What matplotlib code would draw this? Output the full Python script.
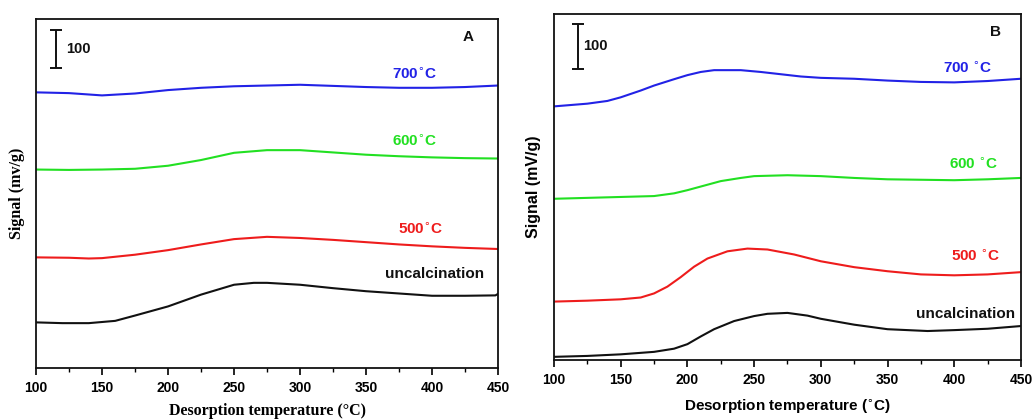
import matplotlib
matplotlib.use("Agg")
import matplotlib.pyplot as plt

# ---------------- Panel A data ----------------
a_blue_x = [100, 125, 150, 175, 200, 225, 250, 275, 300, 325, 350, 375, 400, 425, 450]
a_blue_y = [725, 723, 717, 722, 731, 737, 741, 743, 745, 742, 739, 737, 737, 739, 743]
a_green_x = [100, 125, 150, 175, 200, 225, 250, 275, 300, 325, 350, 375, 400, 425, 450]
a_green_y = [522, 521, 522, 524, 532, 547, 566, 573, 573, 567, 561, 557, 554, 552, 551]
a_red_x = [100, 125, 140, 150, 175, 200, 225, 250, 275, 300, 325, 350, 375, 400, 425, 450]
a_red_y = [291, 290, 288, 289, 298, 310, 325, 339, 345, 342, 337, 331, 325, 320, 316, 313]
a_black_x = [100, 120, 140, 160, 175, 200, 225, 250, 265, 275, 300, 325, 350, 375, 400, 425, 448, 450]
a_black_y = [120, 118, 118, 124, 138, 162, 193, 219, 224, 224, 219, 210, 202, 196, 190, 190, 191, 195]

# ---------------- Panel B data ----------------
b_blue_x = [100, 125, 140, 150, 165, 175, 190, 200, 210, 220, 240, 255, 270, 285, 300, 325, 350, 375, 400, 425, 450]
b_blue_y = [560, 566, 572, 580, 595, 606, 620, 629, 636, 640, 640, 636, 631, 626, 623, 621, 617, 614, 613, 616, 621]
b_green_x = [100, 125, 150, 175, 190, 200, 215, 225, 240, 250, 275, 300, 325, 350, 375, 400, 425, 450]
b_green_y = [356, 358, 360, 362, 368, 375, 387, 395, 402, 406, 408, 406, 402, 399, 398, 397, 399, 402]
b_red_x = [100, 125, 150, 165, 175, 185, 195, 205, 215, 230, 245, 260, 280, 300, 325, 350, 375, 400, 425, 450]
b_red_y = [129, 131, 134, 138, 147, 162, 183, 206, 224, 240, 246, 244, 233, 218, 205, 196, 189, 187, 189, 194]
b_black_x = [100, 125, 150, 175, 190, 200, 210, 220, 235, 250, 260, 275, 290, 300, 325, 350, 380, 400, 425, 450]
b_black_y = [7, 9, 12.5, 18, 25, 35, 52, 68, 86, 97, 102, 104, 98, 91, 78, 68, 64, 66, 69, 75]

xticks = [100, 150, 200, 250, 300, 350, 400, 450]
series_colors = ["#2222e6", "#22e022", "#ee1c1c", "#111111"]

fig = plt.figure(figsize=(10.32, 4.19), dpi=100)

axA = fig.add_axes([0.0349, 0.1217, 0.4477, 0.833])
axB = fig.add_axes([0.5368, 0.1408, 0.4525, 0.8258])

def style(ax, ymax, tickfont):
    ax.set_xlim(100, 450)
    ax.set_ylim(0, ymax)
    ax.set_yticks([])
    ax.set_xticks(xticks)
    ax.set_xticks(range(125, 450, 50), minor=True)
    ax.tick_params(axis="x", which="major", direction="out", length=5, width=1.2, pad=4)
    ax.tick_params(axis="x", which="minor", direction="out", length=3, width=1.0)
    for lab in ax.get_xticklabels():
        lab.set_fontfamily(tickfont)
        lab.set_fontweight("bold")
        lab.set_fontsize(10)
    for s in ax.spines.values():
        s.set_linewidth(1.3)
        s.set_color("#111111")

# Panel A
for xs, ys, c in zip([a_blue_x, a_green_x, a_red_x, a_black_x],
                     [a_blue_y, a_green_y, a_red_y, a_black_y], series_colors):
    axA.plot(xs, ys, color=c, lw=1.5)
style(axA, 918, "Liberation Sans")
axA.set_xlabel("Desorption temperature (\u00b0C)", fontfamily="Liberation Serif",
               fontweight="bold", fontsize=11.5, labelpad=6)
axA.set_ylabel("Signal (mv/g)", fontfamily="Liberation Serif", fontweight="bold",
               fontsize=11.5, labelpad=8)
lab_kw = dict(fontfamily="Liberation Sans", fontweight="bold", fontsize=11, ha="center", va="center")
axA.text(387, 774, "700$^{\\circ}$C", color=series_colors[0], **lab_kw)
axA.text(387, 596, "600$^{\\circ}$C", color=series_colors[1], **lab_kw)
axA.text(391, 366, "500$^{\\circ}$C", color=series_colors[2], **lab_kw)
axA.text(402, 248, "uncalcination", color=series_colors[3], **lab_kw)
axA.text(427.5, 870, "A", color="#111111", **lab_kw)
axA.errorbar([115], [838], yerr=[50], color="#111111", capsize=4, lw=1.4, capthick=1.4)
axA.text(123, 839, "100", color="#111111", fontfamily="Liberation Sans", fontweight="bold",
         fontsize=10.5, ha="left", va="center")

# Panel B
for xs, ys, c in zip([b_blue_x, b_green_x, b_red_x, b_black_x],
                     [b_blue_y, b_green_y, b_red_y, b_black_y], series_colors):
    axB.plot(xs, ys, color=c, lw=1.5)
style(axB, 764, "Liberation Sans")
axB.set_xlabel("Desorption temperature ($^{\\circ}$C)", fontfamily="Liberation Sans",
               fontweight="bold", fontsize=11, labelpad=8)
axB.set_ylabel("Signal (mV/g)", fontfamily="Liberation Sans", fontweight="bold",
               fontsize=11.5, labelpad=9)
axB.text(410, 645, "700 $^{\\circ}$C", color=series_colors[0], **lab_kw)
axB.text(415, 432, "600 $^{\\circ}$C", color=series_colors[1], **lab_kw)
axB.text(416, 229, "500 $^{\\circ}$C", color=series_colors[2], **lab_kw)
axB.text(408.5, 102, "uncalcination", color=series_colors[3], **lab_kw)
axB.text(431, 724, "B", color="#111111", **lab_kw)
axB.errorbar([118], [693], yerr=[50], color="#111111", capsize=4, lw=1.4, capthick=1.4)
axB.text(121.5, 694, "100", color="#111111", fontfamily="Liberation Sans", fontweight="bold",
         fontsize=10.5, ha="left", va="center")

fig.savefig("out.png", dpi=100)
